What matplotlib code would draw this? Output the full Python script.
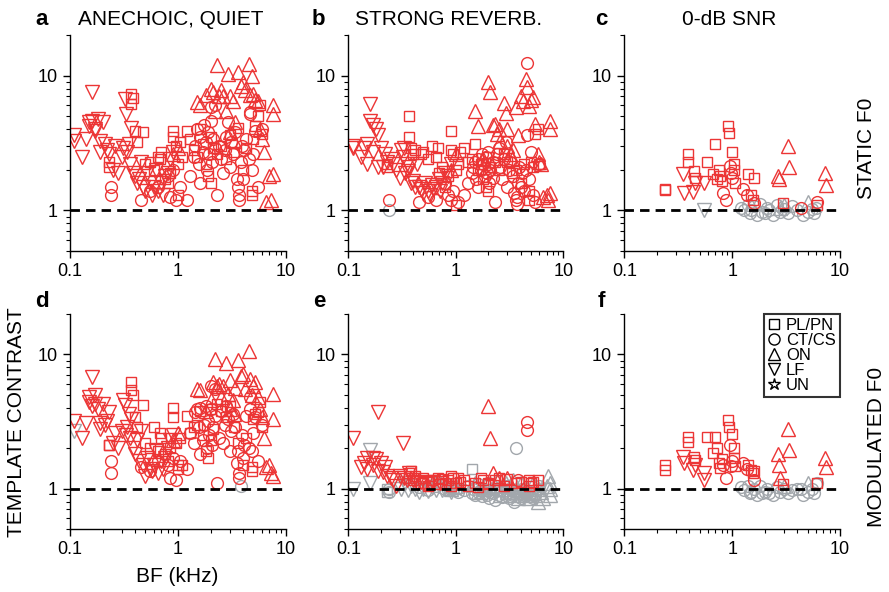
import matplotlib
matplotlib.use('Agg')
import matplotlib.pyplot as plt
from matplotlib.lines import Line2D
from matplotlib.ticker import FixedLocator, NullFormatter, FixedFormatter

plt.rcParams['font.family'] = ['Liberation Sans', 'DejaVu Sans']

RED = '#EC3535'
GRAY = '#A2A7AC'

# ---------------- population 1 (panels a, b, d, e) ----------------
bf1_lf = [0.11, 0.11, 0.13, 0.14, 0.15, 0.15, 0.16, 0.16, 0.17, 0.17, 0.18, 0.19, 0.19, 0.20, 0.21, 0.22,
          0.23, 0.25, 0.26, 0.28, 0.30, 0.31, 0.32, 0.33, 0.34, 0.35, 0.36, 0.37, 0.38, 0.40, 0.42, 0.44,
          0.45, 0.47, 0.50, 0.52, 0.55, 0.58, 0.60, 0.62, 0.65, 0.70, 0.72, 0.75, 0.80, 0.85, 0.90]
bf1_pl = [0.23, 0.23, 0.37, 0.37, 0.38, 0.40, 0.42, 0.47, 0.50, 0.55, 0.60, 0.65, 0.68, 0.70, 0.75, 0.80,
          0.85, 0.90, 0.90, 0.95, 1.0, 1.0, 1.05, 1.1, 1.2, 1.3, 1.4, 1.5, 1.6, 1.7, 1.8, 1.9, 2.0, 2.0,
          2.1, 2.3, 2.5, 2.8, 3.0, 3.3, 3.6, 4.0, 4.3, 4.8, 4.8, 5.0, 5.2, 5.5, 5.8, 6.0]
bf1_ct = [0.24, 0.24, 0.45, 0.55, 0.65, 0.80, 0.85, 0.90, 0.95, 1.05, 1.2, 1.3, 1.4, 1.45, 1.5, 1.55,
          1.6, 1.6, 1.7, 1.75, 1.8, 1.85, 1.9, 1.95, 2.0, 2.0, 2.05, 2.1, 2.2, 2.2, 2.3, 2.4, 2.5, 2.6,
          2.7, 2.8, 2.9, 3.0, 3.1, 3.2, 3.4, 3.5, 3.6, 3.7, 3.7, 3.8, 3.9, 4.0, 4.1, 4.3, 4.5, 4.6, 4.6,
          4.8, 5.0, 5.2, 5.5, 6.0]
bf1_on = [0.9, 1.0, 1.5, 1.6, 1.8, 2.0, 2.1, 2.2, 2.3, 2.4, 2.5, 2.6, 2.8, 2.9, 3.0, 3.0, 3.2, 3.3, 3.4,
          3.6, 3.8, 4.0, 4.2, 4.5, 4.6, 4.8, 5.0, 5.2, 5.5, 5.8, 6.0, 6.2, 6.5, 7.0, 7.2, 7.5, 7.5, 7.6]

# panel a: static F0, anechoic quiet
a_lf = [3.6, 3.3, 2.5, 3.4, 4.5, 4.2, 4.6, 7.5, 3.9, 4.0, 4.8, 3.3, 2.7, 4.5, 3.1, 2.8, 2.6, 2.0, 3.0,
        1.9, 2.5, 2.9, 6.7, 5.2, 2.7, 3.1, 2.2, 4.1, 1.9, 1.8, 1.6, 1.7, 2.3, 1.5, 1.4, 1.9, 1.6, 1.3,
        1.5, 2.0, 1.4, 1.6, 1.3, 1.8, 1.9, 2.4, 2.7]
a_pl = [2.1, 2.3, 7.3, 6.2, 6.8, 3.9, 3.2, 3.8, 2.2, 2.3, 2.0, 2.5, 2.4, 2.7, 1.7, 1.6, 1.9, 3.9, 3.5,
        3.0, 1.3, 2.2, 3.2, 2.5, 3.9, 3.4, 2.8, 2.5, 4.0, 3.1, 2.2, 1.8, 1.6, 3.5, 2.9, 2.6, 3.0, 2.4,
        3.6, 2.7, 4.1, 2.0, 2.9, 1.4, 1.3, 3.4, 4.2, 5.0, 6.1, 3.7]
a_ct = [1.5, 1.3, 1.2, 1.4, 1.5, 1.8, 1.25, 2.0, 1.2, 1.5, 1.2, 1.8, 2.5, 3.0, 4.0, 2.2, 1.6, 3.5, 2.7,
        4.3, 3.2, 2.0, 3.8, 2.6, 5.8, 4.6, 2.3, 3.4, 2.9, 6.0, 1.3, 3.0, 2.4, 1.9, 2.8, 3.5, 4.5, 2.1,
        3.2, 2.6, 3.8, 1.7, 1.5, 1.3, 1.2, 2.3, 3.0, 1.7, 2.8, 3.4, 2.4, 5.4, 5.2, 2.0, 2.6, 3.9, 1.5, 4.0]
a_on = [2.6, 2.9, 6.4, 6.0, 7.2, 8.0, 7.5, 5.5, 12.0, 7.1, 7.8, 7.0, 5.5, 10.3, 7.0, 3.8, 6.5, 3.3, 4.5,
        10.7, 8.3, 8.9, 7.8, 12.2, 7.2, 10.0, 7.3, 6.6, 6.5, 4.0, 3.4, 2.7, 1.15, 1.8, 1.2, 1.85, 6.0, 5.2]

# panel b: static F0, strong reverberation
b_lf = [3.0, 2.9, 2.5, 2.9, 3.1, 2.2, 4.6, 6.2, 4.3, 2.7, 4.0, 3.6, 2.1, 2.9, 2.1, 2.6, 2.3, 2.4, 2.2,
        2.0, 1.75, 2.8, 2.5, 2.9, 1.9, 2.2, 1.95, 2.1, 1.6, 1.65, 1.5, 2.2, 1.5, 1.45, 1.35, 1.6, 1.4,
        1.3, 1.55, 1.45, 1.5, 1.7, 1.4, 1.6, 1.9, 1.8, 2.2]
b_pl = [2.2, 2.1, 5.0, 3.5, 2.9, 2.6, 2.8, 2.6, 2.7, 2.4, 3.0, 2.5, 2.9, 1.9, 2.1, 1.5, 1.8, 3.9, 2.8,
        2.6, 1.1, 2.0, 2.2, 2.7, 2.9, 2.3, 2.4, 3.1, 2.0, 2.2, 1.7, 1.5, 1.4, 2.5, 2.1, 2.3, 2.0, 2.6,
        2.3, 1.9, 2.0, 1.6, 2.2, 1.4, 1.2, 2.3, 2.1, 3.7, 4.0, 2.2]
b_ct = [1.2, 1.0, 1.15, 1.25, 1.2, 1.6, 1.3, 1.2, 1.4, 1.15, 1.3, 1.6, 1.9, 2.1, 2.3, 1.7, 1.5, 2.4, 2.0,
        2.6, 2.2, 1.8, 2.5, 1.9, 2.2, 2.7, 1.6, 2.0, 1.75, 2.3, 1.15, 2.6, 2.9, 2.1, 1.7, 2.4, 3.2, 1.5,
        2.0, 2.3, 1.8, 1.35, 1.2, 1.25, 1.12, 1.6, 2.1, 1.5, 1.9, 1.4, 2.0, 12.5, 3.6, 1.7, 2.7, 1.3,
        1.15, 2.2]
b_on = [2.0, 2.6, 5.5, 4.2, 2.4, 8.9, 7.5, 4.3, 4.4, 3.7, 4.0, 3.3, 6.3, 5.3, 4.0, 3.0, 2.6, 2.4, 2.8,
        5.8, 3.6, 7.0, 6.5, 9.4, 8.2, 5.9, 6.6, 6.9, 4.4, 2.6, 2.3, 2.2, 1.25, 1.3, 1.2, 4.6, 4.0, 1.35]

# panel d: modulated F0, anechoic quiet
d_lf = [3.2, 2.7, 2.4, 3.1, 4.4, 4.8, 4.1, 6.8, 4.3, 5.0, 3.9, 3.1, 2.8, 4.3, 3.0, 3.2, 3.7, 2.2, 2.6,
        2.0, 2.7, 4.6, 4.2, 2.5, 2.9, 3.6, 2.4, 3.3, 2.0, 1.8, 2.3, 1.6, 2.7, 1.5, 1.25, 1.7, 1.4, 1.35,
        1.5, 1.9, 1.3, 1.6, 1.4, 1.7, 2.0, 2.3, 2.5]
d_pl = [2.1, 2.1, 6.2, 5.4, 5.0, 3.4, 2.9, 4.2, 2.2, 2.0, 2.9, 1.9, 2.6, 2.4, 1.8, 1.6, 2.0, 3.4, 4.0,
        2.2, 1.5, 1.4, 2.4, 1.5, 3.5, 2.6, 2.9, 3.0, 3.8, 2.5, 1.9, 1.7, 2.3, 3.9, 2.8, 4.3, 3.8, 3.4,
        4.1, 2.9, 2.2, 1.5, 2.4, 1.45, 1.35, 3.3, 3.6, 3.7, 4.4, 2.9]
d_ct = [1.6, 1.3, 1.45, 1.35, 1.6, 1.5, 1.2, 1.7, 1.15, 1.6, 1.4, 2.6, 2.2, 3.7, 3.9, 2.9, 1.8, 4.0, 2.3,
        3.0, 4.1, 2.0, 3.2, 2.5, 5.8, 3.9, 2.1, 2.9, 3.5, 5.5, 1.1, 2.4, 3.8, 2.2, 3.0, 4.1, 3.3, 1.9,
        2.7, 3.6, 2.9, 1.55, 1.9, 1.3, 1.2, 1.05, 2.5, 1.7, 2.1, 3.5, 2.0, 4.8, 3.9, 1.9, 2.6, 3.4, 1.6, 3.0]
d_on = [2.3, 2.6, 5.5, 5.4, 3.8, 4.6, 6.2, 9.3, 5.8, 6.0, 4.8, 5.8, 8.6, 5.1, 6.4, 3.9, 4.6, 3.6, 5.6,
        9.1, 6.9, 7.2, 5.5, 10.6, 6.6, 5.0, 5.8, 6.2, 4.8, 3.9, 3.4, 2.4, 1.45, 1.5, 1.3, 3.3, 1.25, 5.1]

# panel e: modulated F0, strong reverberation
e_lf = [2.4, 1.0, 1.45, 1.55, 1.68, 1.4, 1.95, 1.1, 1.7, 1.5, 1.65, 3.7, 1.35, 1.55, 1.34, 1.45, 1.25,
        1.2, 1.15, 1.05, 1.25, 1.0, 2.2, 1.2, 1.1, 1.15, 0.97, 1.3, 1.05, 1.15, 1.0, 1.1, 0.95, 1.12,
        1.0, 1.08, 0.96, 1.1, 1.02, 1.12, 0.98, 1.05, 1.1, 0.97, 1.05, 1.0, 0.95]
e_pl = [1.0, 0.95, 1.3, 1.2, 1.35, 1.15, 1.25, 1.1, 1.2, 1.05, 1.15, 1.12, 1.2, 1.08, 1.18, 1.1, 1.15,
        1.25, 1.05, 1.2, 1.1, 1.0, 1.2, 1.12, 1.15, 1.05, 1.4, 1.1, 1.02, 1.2, 1.15, 1.0, 1.1, 1.08, 1.0,
        1.15, 1.2, 1.05, 1.18, 1.0, 1.1, 1.12, 0.95, 1.15, 1.05, 1.1, 1.12, 0.9, 1.15, 1.0]
e_ct = [0.95, 1.0, 1.02, 0.98, 1.05, 1.0, 0.97, 1.03, 1.0, 0.95, 0.98, 1.05, 0.92, 1.0, 0.9, 1.02, 0.95,
        1.08, 0.97, 0.88, 1.0, 0.93, 1.05, 0.9, 0.98, 1.1, 0.85, 0.95, 1.0, 0.92, 0.82, 0.97, 0.9, 1.03,
        0.87, 0.95, 1.05, 0.93, 0.85, 1.0, 0.9, 0.8, 2.0, 0.95, 0.88, 1.15, 0.92, 0.85, 1.0, 0.9, 0.95,
        3.15, 2.75, 0.88, 0.93, 0.85, 0.9, 1.05]
e_on = [1.0, 1.05, 1.1, 0.95, 1.0, 4.1, 2.4, 1.3, 1.05, 1.15, 1.2, 0.9, 1.0, 1.1, 1.2, 0.95, 1.05, 0.9,
        1.15, 1.0, 0.85, 1.1, 0.95, 0.9, 1.0, 0.85, 0.95, 1.1, 0.9, 0.8, 1.0, 0.95, 0.85, 1.05, 1.25,
        1.0, 0.9, 1.1]

# non-significant (gray) point indices
b_ct_ns = [1]
d_lf_ns = [1]
d_ct_ns = [45]
e_lf_ns = [1, 6, 7, 21, 24, 26, 28, 30, 32, 34, 36, 38, 40, 41, 43, 44, 45, 46]
e_pl_ns = [0, 1, 11, 21, 26, 31, 34, 39, 42, 47, 49]
e_ct_sig = [45, 51, 52]
e_on_sig = [5, 6, 7, 10, 14]

# ---------------- population 2 (panels c, f: 0-dB SNR) ----------------
bf2_pl = [0.237, 0.24, 0.386, 0.39, 0.44, 0.45, 0.59, 0.67, 0.70, 0.72, 0.75, 0.77, 0.80, 0.92, 0.93,
          1.0, 1.05, 1.05, 1.06, 1.39, 1.5, 1.55, 1.6, 2.97, 6.1]
bf2_ct = [0.82, 0.88, 0.96, 0.98, 1.0, 1.26, 1.37, 1.6, 4.37, 6.1, 1.2, 1.3, 1.4, 1.45, 1.5, 1.6, 1.7,
          1.8, 1.9, 2.0, 2.1, 2.2, 2.4, 2.6, 2.8, 3.0, 3.3, 3.6, 4.0, 4.5, 5.0, 5.5, 5.8, 6.0]
bf2_lf = [0.35, 0.355, 0.43, 0.45, 0.55, 0.55]
bf2_on = [2.65, 2.7, 2.75, 3.0, 3.3, 3.35, 5.0, 7.3, 7.35]

c_pl = [1.42, 1.45, 2.6, 2.27, 1.95, 1.75, 2.28, 1.85, 3.13, 1.7, 2.0, 1.8, 1.65, 4.24, 3.77, 2.71, 2.2,
        2.0, 1.6, 1.85, 1.3, 1.2, 1.75, 1.13, 1.1]
c_ct = [1.35, 1.2, 2.13, 1.9, 1.75, 1.43, 1.3, 1.13, 1.05, 1.15, 1.05, 1.0, 1.1, 0.95, 1.0, 1.08, 0.92,
        1.12, 0.98, 0.95, 1.05, 1.0, 0.93, 1.1, 0.97, 1.02, 0.95, 1.08, 1.0, 0.93, 0.98, 1.02, 0.95, 1.05]
c_lf = [1.85, 1.35, 1.38, 1.6, 1.6, 1.0]
c_on = [1.8, 1.7, 1.05, 1.1, 3.0, 2.1, 1.15, 1.9, 1.55]

f_pl = [1.5, 1.38, 2.44, 2.24, 1.73, 1.64, 2.44, 1.83, 2.44, 2.0, 1.55, 1.42, 1.65, 3.25, 2.9, 2.55, 2.0,
        1.7, 1.47, 1.5, 1.38, 1.3, 1.35, 1.08, 1.1]
f_ct = [1.5, 1.2, 2.1, 1.48, 1.6, 1.55, 1.4, 1.15, 1.0, 1.1, 1.02, 0.97, 1.05, 0.93, 0.95, 1.0, 0.9, 1.05,
        0.92, 0.95, 1.0, 0.93, 0.9, 1.03, 0.95, 1.0, 0.92, 0.97, 1.0, 0.9, 0.95, 1.0, 0.93, 1.08]
f_lf = [1.73, 1.55, 1.38, 1.5, 1.16, 1.3]
f_on = [1.8, 1.5, 1.2, 1.05, 2.8, 1.94, 1.1, 1.7, 1.45]

c_ct_ns = list(range(10, 34))
c_lf_ns = [5]
c_on_ns = [2, 3, 6]
f_ct_ns = list(range(8, 34))
f_on_ns = [3, 6]

panel_letters = ['a', 'b', 'c', 'd', 'e', 'f']
col_titles = ['ANECHOIC, QUIET', 'STRONG REVERB.', '0-dB SNR']
row_titles = ['STATIC F0', 'MODULATED F0']
legend_labels = ['PL/PN', 'CT/CS', 'ON', 'LF', 'UN']

MARK = {'pl': ('s', 7.5), 'ct': ('o', 8.5), 'on': ('^', 9.5), 'lf': ('v', 9.5)}


def all_but(n, keep):
    return [i for i in range(n) if i not in keep]


panels = [
    dict(bf=dict(lf=bf1_lf, pl=bf1_pl, ct=bf1_ct, on=bf1_on),
         val=dict(lf=a_lf, pl=a_pl, ct=a_ct, on=a_on), ns={}),
    dict(bf=dict(lf=bf1_lf, pl=bf1_pl, ct=bf1_ct, on=bf1_on),
         val=dict(lf=b_lf, pl=b_pl, ct=b_ct, on=b_on), ns=dict(ct=b_ct_ns)),
    dict(bf=dict(lf=bf2_lf, pl=bf2_pl, ct=bf2_ct, on=bf2_on),
         val=dict(lf=c_lf, pl=c_pl, ct=c_ct, on=c_on), ns=dict(ct=c_ct_ns, lf=c_lf_ns, on=c_on_ns)),
    dict(bf=dict(lf=bf1_lf, pl=bf1_pl, ct=bf1_ct, on=bf1_on),
         val=dict(lf=d_lf, pl=d_pl, ct=d_ct, on=d_on), ns=dict(lf=d_lf_ns, ct=d_ct_ns)),
    dict(bf=dict(lf=bf1_lf, pl=bf1_pl, ct=bf1_ct, on=bf1_on),
         val=dict(lf=e_lf, pl=e_pl, ct=e_ct, on=e_on),
         ns=dict(lf=e_lf_ns, pl=e_pl_ns, ct=all_but(len(e_ct), e_ct_sig), on=all_but(len(e_on), e_on_sig))),
    dict(bf=dict(lf=bf2_lf, pl=bf2_pl, ct=bf2_ct, on=bf2_on),
         val=dict(lf=f_lf, pl=f_pl, ct=f_ct, on=f_on), ns=dict(ct=f_ct_ns, on=f_on_ns)),
]

W, H = 889, 592
fig = plt.figure(figsize=(W / 100, H / 100), dpi=100)

lefts = [70, 348.3, 624.3]
rights = [286, 563.3, 840]
tops = [35, 314]
bottoms = [251, 529]

for k, p in enumerate(panels):
    r, c = divmod(k, 3)
    ax = fig.add_axes([lefts[c] / W, 1 - bottoms[r] / H,
                       (rights[c] - lefts[c]) / W, (bottoms[r] - tops[r]) / H])
    ax.set_xscale('log')
    ax.set_yscale('log')
    ax.set_xlim(0.1, 10)
    ax.set_ylim(0.5, 20)
    for s in ['top', 'right']:
        ax.spines[s].set_visible(False)
    for s in ['left', 'bottom']:
        ax.spines[s].set_linewidth(1.0)
    ax.xaxis.set_major_locator(FixedLocator([0.1, 1, 10]))
    ax.xaxis.set_major_formatter(FixedFormatter(['0.1', '1', '10']))
    ax.xaxis.set_minor_locator(FixedLocator([m * d for d in [0.1, 1] for m in range(2, 10)]))
    ax.xaxis.set_minor_formatter(NullFormatter())
    ax.yaxis.set_major_locator(FixedLocator([1, 10]))
    ax.yaxis.set_major_formatter(FixedFormatter(['1', '10']))
    ax.yaxis.set_minor_locator(FixedLocator([0.5, 0.6, 0.7, 0.8, 0.9] + list(range(2, 10)) + [20]))
    ax.yaxis.set_minor_formatter(NullFormatter())
    ax.tick_params(which='major', direction='out', length=5, width=1.0, labelsize=13, pad=4)
    ax.tick_params(which='minor', direction='out', length=3, width=0.8)

    ns = p['ns']
    # gray first, then red on top
    for colour_pass in ('gray', 'red'):
        for t in ['lf', 'pl', 'ct', 'on']:
            xs, ys = p['bf'][t], p['val'][t]
            gray_idx = set(ns.get(t, []))
            sel = [i for i in range(len(xs)) if (i in gray_idx) == (colour_pass == 'gray')]
            if not sel:
                continue
            m, ms = MARK[t]
            ax.plot([xs[i] for i in sel], [ys[i] for i in sel], linestyle='none', marker=m,
                    mfc='none', mec=GRAY if colour_pass == 'gray' else RED, ms=ms, mew=1.0, zorder=2)
    ax.axhline(1, color='k', lw=2.0, dashes=(3.4, 2.2), zorder=3)

    if k == 5:
        handles = [Line2D([], [], linestyle='none', marker=mk, mfc='none', mec='k', ms=sz, mew=1.0)
                   for mk, sz in [('s', 7), ('o', 8), ('^', 8.5), ('v', 8.5), ('*', 9)]]
        leg = ax.legend(handles, legend_labels, loc='upper right', bbox_to_anchor=(1.0, 1.0),
                        frameon=True, fancybox=False, edgecolor='k', fontsize=12,
                        handlelength=0.7, handletextpad=0.35, labelspacing=0.0, borderpad=0.25,
                        borderaxespad=0.0)
        leg.get_frame().set_linewidth(1.5)

# panel letters & titles
letter_pos = [(35, 25), (312, 25), (595, 25), (35, 307), (313, 307), (598, 307)]
for (x, y), L in zip(letter_pos, panel_letters):
    fig.text(x / W, 1 - y / H, L, fontsize=16, fontweight='bold', va='baseline', ha='left')
title_cx = [171, 449, 729]
for cx, t in zip(title_cx, col_titles):
    fig.text(cx / W, 1 - 25 / H, t, fontsize=15, va='baseline', ha='center')

fig.text(867 / W, 1 - 148 / H, row_titles[0], fontsize=15, rotation=90, va='center', ha='center')
fig.text(876 / W, 1 - 447 / H, row_titles[1], fontsize=15, rotation=90, va='center', ha='center')
fig.text(17 / W, 1 - 422 / H, 'TEMPLATE CONTRAST', fontsize=15, rotation=90, va='center', ha='center')
fig.text(177 / W, 1 - 576 / H, 'BF (kHz)', fontsize=15, va='center', ha='center')

fig.savefig('out.png', dpi=100)
